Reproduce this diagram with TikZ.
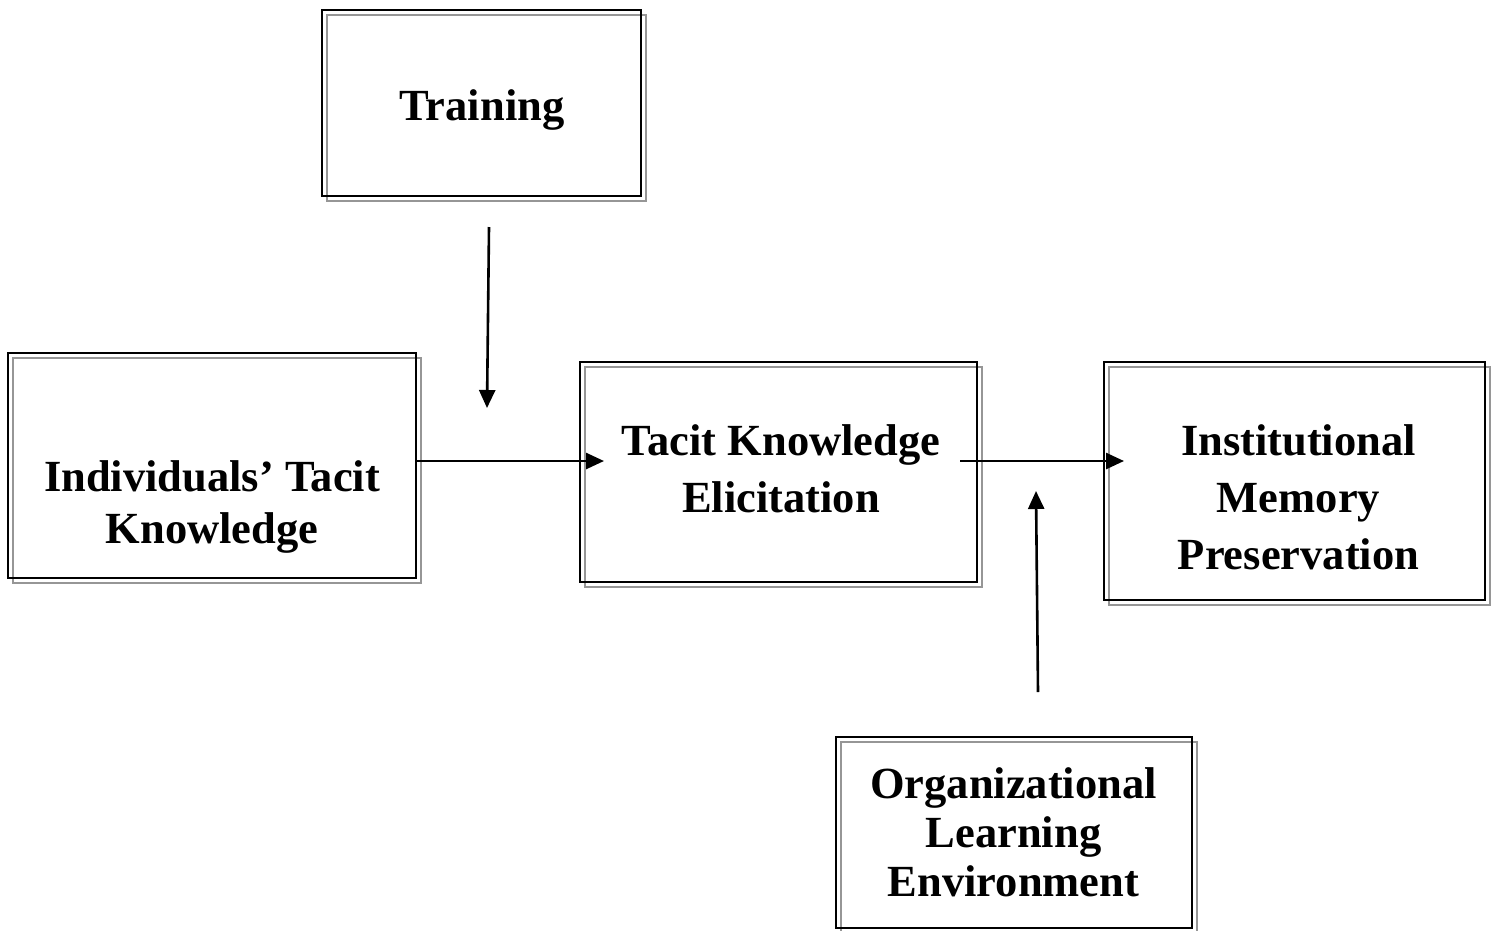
\documentclass[tikz,border=0pt]{standalone}
\usepackage{fontspec}
\setmainfont{Liberation Serif}
\usetikzlibrary{arrows.meta}
\definecolor{shadowgray}{RGB}{150,150,150}
\begin{document}
\begin{tikzpicture}[x=1pt,y=-1pt,
  box/.style={draw=black,line width=2.2pt,rectangle,inner sep=0pt,outer sep=0pt},
  shadowline/.style={draw=shadowgray,line width=1.8pt},
  lbl/.style={align=center,inner sep=0pt,font=\bfseries\fontsize{44.5}{#1}\selectfont},
  conn/.style={line width=2.6pt,-{Triangle[length=18pt,width=16pt]}}]
\useasboundingbox (0,0) rectangle (1494,930);
% shadows
\foreach \cx/\cy/\w/\h in {481.5/103/319/186, 212/465.5/408/225, 778.5/472/397/220, 1294.5/481/381/238, 1014/832.5/356/191}{
  \draw[shadowline] (\cx-\w/2+5,\cy-\h/2+5) rectangle (\cx+\w/2+5,\cy+\h/2+5);
}
% boxes
\node[box,minimum width=319pt,minimum height=186pt] (train) at (481.5,103) {};
\node[box,minimum width=408pt,minimum height=225pt] (ind) at (212,465.5) {};
\node[box,minimum width=397pt,minimum height=220pt] (tac) at (778.5,472) {};
\node[box,minimum width=381pt,minimum height=238pt] (inst) at (1294.5,481) {};
\node[box,minimum width=356pt,minimum height=191pt] (org) at (1014,832.5) {};
% texts
\node[lbl=52] (trainT) at (482,110) {Training};
\node[lbl=52] (indT) at (212,507) {Individuals’ Tacit\\Knowledge};
\node[lbl=57] (tacT) at (781,469) {Tacit Knowledge\\Elicitation};
\node[lbl=57] (instT) at (1298.5,497) {Institutional\\Memory\\Preservation};
\node[lbl=49] (orgT) at (1013.5,832) {Organizational\\Learning\\Environment};
% connector ends
\coordinate (trainS) at (489,227);
\coordinate (trainE) at (487,408);
\coordinate (tacE) at (604,461);
\coordinate (midS) at (960,461);
\coordinate (instE) at (1124,461);
\coordinate (orgS) at (1038,692);
\coordinate (orgE) at (1036,491);
\draw[conn] (trainS) -- (trainE);
\draw[conn] (ind.east |- tacE) -- (tacE);
\draw[conn] (midS) -- (instE);
\draw[conn] (orgS) -- (orgE);
\end{tikzpicture}
\end{document}
